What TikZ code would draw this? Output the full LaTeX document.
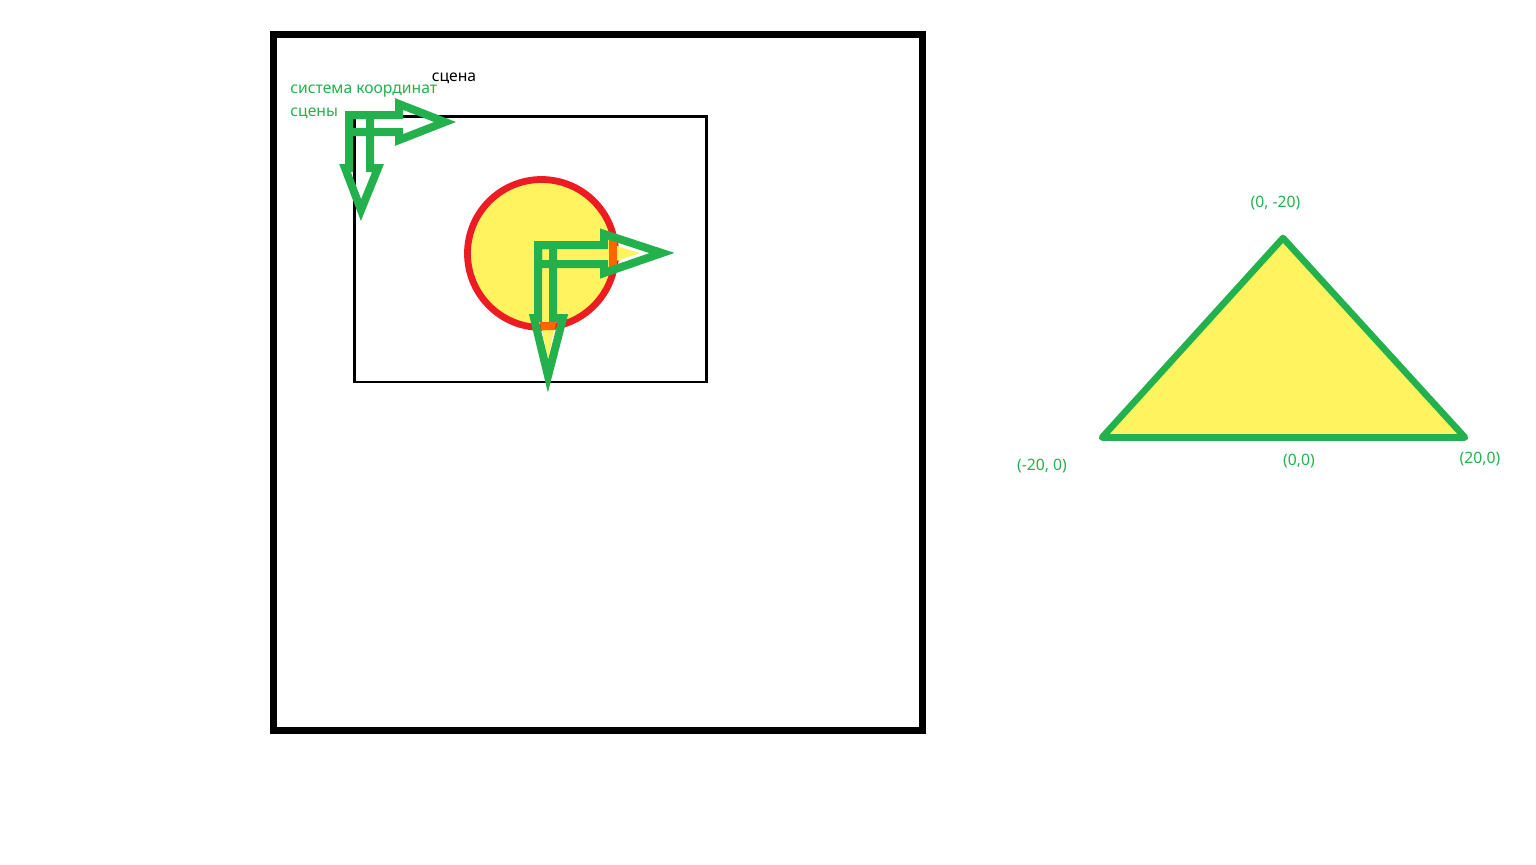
\documentclass[tikz,border=0pt]{standalone}
\usepackage{fontspec}
\setmainfont{Noto Sans}
\definecolor{pgreen}{RGB}{34,177,76}
\definecolor{pred}{RGB}{237,28,36}
\definecolor{pyellow}{RGB}{255,243,95}
\tikzset{
  frame/.style={draw=black,line width=3.5pt},
  scenebox/.style={draw=black,line width=1.4pt},
  arrowshape/.style={draw=pgreen,line width=4pt,line join=miter},
  lbl/.style={text=pgreen,font=\fontsize{7.85pt}{9pt}\selectfont,inner sep=0pt},
  blk/.style={text=black,font=\fontsize{7.85pt}{9pt}\selectfont,inner sep=0pt},
}
\begin{document}
\begin{tikzpicture}[x=0.5pt,y=-0.5pt]
\useasboundingbox (0,0) rectangle (1536,864);
% outer frame
\draw[frame] (273.5,34.5) rectangle (922.5,730.5);
% scene rectangle
\draw[scenebox] (354.5,116.5) rectangle (706.5,382);
% circle
\node[circle,draw=pred,fill=pyellow,line width=3.4pt,minimum size=74pt,inner sep=0pt] (sun) at (541.5,253.5) {};
% leaked yellow inside the arrow heads
\fill[pyellow] (540,318) -- (556,318) -- (548,360) -- cycle;
\fill[pyellow] (604,242) -- (640,253) -- (604,265) -- cycle;
\fill[orange!80!red] (540,322) -- (556,322) -- (555,330) -- (541,330) -- cycle;
\fill[orange!80!red] (609,240) -- (617,240) -- (617,268) -- (609,268) -- cycle;
% scene coordinate axes (top-left)
\draw[arrowshape] (349,115) -- (399,115) -- (399,104) -- (445,122) -- (399,140) -- (399,132) -- (349,132) -- cycle;
\draw[arrowshape] (349,115) -- (370,115) -- (370,168) -- (378,168) -- (361,210) -- (345,168) -- (349,168) -- cycle;
% object coordinate axes (on circle)
\draw[arrowshape] (538,245) -- (604,245) -- (604,234) -- (662,253) -- (604,273) -- (604,264) -- (538,264) -- cycle;
\draw[arrowshape] (538,245) -- (553,245) -- (553,318) -- (563,318) -- (548,376) -- (534,318) -- (538,318) -- cycle;
% labels on the left
\node[blk] (scene) at (454,78) {сцена};
\node[lbl,anchor=west] (cs1) at (290,91) {система координат};
\node[lbl,anchor=west] (cs2) at (290,113) {сцены};
% triangle
\coordinate (apex) at (1283,238);
\coordinate (bl) at (1102,437.5);
\coordinate (br) at (1465,437.5);
\draw[draw=pgreen,fill=pyellow,line width=3.3pt,line join=round] (apex) -- (bl) -- (br) -- cycle;
\node[lbl] (lapex) at (1275.5,203) {(0, -20)};
\node[lbl] (lbl0) at (1042,466) {(-20, 0)};
\node[lbl] (lorig) at (1299,461) {(0,0)};
\node[lbl] (lbr) at (1480,459) {(20,0)};
\end{tikzpicture}
\end{document}
